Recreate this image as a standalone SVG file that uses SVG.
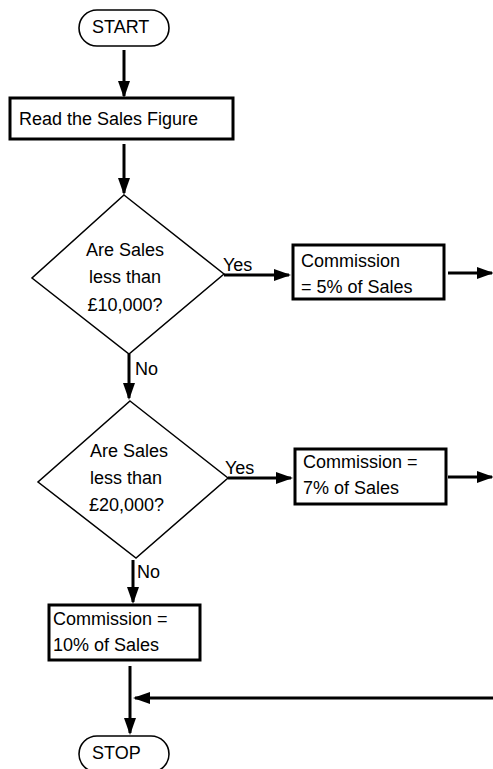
<svg xmlns="http://www.w3.org/2000/svg" width="493" height="769" viewBox="0 0 493 769">
<style>
text{font-family:"Liberation Sans",Arial,sans-serif;font-size:18px;fill:#000}
.term{fill:#fff;stroke:#000;stroke-width:1.6}
.box{fill:#fff;stroke:#000;stroke-width:3}
.dec{fill:#fff;stroke:#000;stroke-width:1.5}
.con{fill:none;stroke:#000;stroke-width:3;marker-end:url(#ah)}
</style>
<defs>
<marker id="ah" markerUnits="userSpaceOnUse" markerWidth="17" markerHeight="12" refX="15" refY="6" orient="auto">
<path d="M0,0 L17,6 L0,12 z" fill="#000"/>
</marker>
</defs>
<rect width="493" height="769" fill="#fff"/>
<g id="connectors">
<path class="con" d="M124,50 V96"/>
<path class="con" d="M124,144 V193"/>
<path class="con" d="M224,275 H289"/>
<path class="con" d="M448,273 H492"/>
<path class="con" d="M129,354 V398"/>
<path class="con" d="M228,478 H291"/>
<path class="con" d="M448,477 H492"/>
<path class="con" d="M133,560 V602"/>
<path class="con" d="M130,666 V733"/>
<path class="con" d="M493,698 H135"/>
<text x="223" y="271">Yes</text>
<text x="135" y="375">No</text>
<text x="225" y="474">Yes</text>
<text x="137" y="578">No</text>
</g>
<g id="start">
<rect class="term" x="79" y="10" width="90" height="36" rx="18"/>
<text x="92" y="33">START</text>
</g>
<g id="read">
<rect class="box" x="10" y="98" width="223" height="41"/>
<text x="19" y="125">Read the Sales Figure</text>
</g>
<g id="decision1">
<polygon class="dec" points="124,195 224,274 129,354 32,278"/>
<text x="125" y="256" text-anchor="middle">Are Sales</text>
<text x="125" y="283" text-anchor="middle">less than</text>
<text x="125" y="311" text-anchor="middle">£10,000?</text>
</g>
<g id="comm5">
<rect class="box" x="293" y="245" width="151" height="54"/>
<text x="301" y="267">Commission</text>
<text x="301" y="293">= 5% of Sales</text>
</g>
<g id="decision2">
<polygon class="dec" points="130,401 228,478 136,558 38,482"/>
<text x="90" y="457">Are Sales</text>
<text x="90" y="484">less than</text>
<text x="89" y="511">£20,000?</text>
</g>
<g id="comm7">
<rect class="box" x="295" y="449" width="151" height="55"/>
<text x="303" y="468">Commission =</text>
<text x="303" y="494">7% of Sales</text>
</g>
<g id="comm10">
<rect class="box" x="49" y="605" width="151" height="55"/>
<text x="53" y="625">Commission =</text>
<text x="53" y="651">10% of Sales</text>
</g>
<g id="stop">
<rect class="term" x="79" y="736" width="90" height="36" rx="18"/>
<text x="92" y="759">STOP</text>
</g>
</svg>
